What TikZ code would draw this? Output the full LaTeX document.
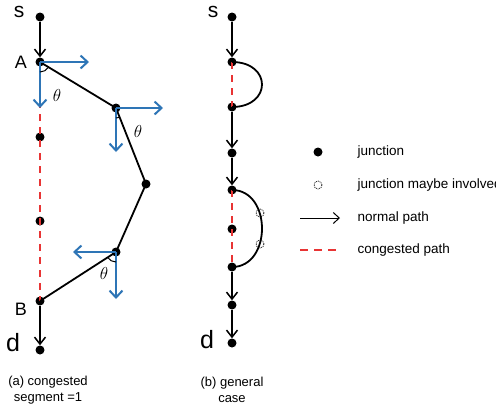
\documentclass[tikz,border=0pt]{standalone}
\usepackage{fontspec}
\setmainfont{Liberation Sans}
\usetikzlibrary{arrows.meta,angles}
\definecolor{myblue}{RGB}{46,117,182}
\definecolor{myred}{RGB}{232,52,52}
\tikzset{
  dot/.style={circle,fill=black,inner sep=0pt,minimum size=9pt},
  odot/.style={circle,draw=black,densely dotted,line width=0.8pt,inner sep=0pt,minimum size=8pt},
  normal/.style={line width=1.8pt,-{Straight Barb[length=7pt,width=11pt,line width=1.5pt]}},
  plain/.style={line width=1.8pt},
  cong/.style={myred,line width=2pt,dash pattern=on 7pt off 6pt},
  bluearr/.style={myblue,line width=2.2pt,-{Straight Barb[length=7pt,width=13pt,line width=2pt]}},
  lbl/.style={font=\fontsize{18}{18}\selectfont},
  captxt/.style={font=\fontsize{13}{16}\selectfont,align=center},
  leg/.style={font=\fontsize{13.5}{15}\selectfont,anchor=west},
  angmark/.style={draw,line width=1pt,angle radius=10pt}
}
\begin{document}
\begin{tikzpicture}[x=1pt,y=1pt]
\useasboundingbox (0,0) rectangle (496,-410);
% ---- (a)
\node[dot] (s) at (40,-17) {};
\node[dot] (A) at (40,-62) {};
\node[dot] (m1) at (40,-137) {};
\node[dot] (m2) at (40,-221) {};
\node[dot] (B) at (40,-301) {};
\node[dot] (d) at (40,-350) {};
\node[dot] (P1) at (116,-108) {};
\node[dot] (P2) at (146,-184) {};
\node[dot] (P3) at (116,-252) {};
\draw[cong] (A.center) -- (B.center);
\draw[normal] (s) -- (A);
\draw[normal] (B) -- (d);
\draw[plain] (A.center) -- (P1.center) -- (P2.center) -- (P3.center) -- (B.center);
% blue vectors
\coordinate (Ar) at (89,-62);
\coordinate (Ad) at (40,-108);
\coordinate (P1r) at (163,-108);
\coordinate (P1d) at (116,-152);
\coordinate (P3l) at (73,-252);
\coordinate (P3d) at (116,-299);
\draw[bluearr] (A.center) -- (Ar);
\draw[bluearr] (A.center) -- (Ad);
\draw[bluearr] (P1.center) -- (P1r);
\draw[bluearr] (P1.center) -- (P1d);
\draw[bluearr] (P3.center) -- (P3l);
\draw[bluearr] (P3.center) -- (P3d);
% angle marks
\coordinate (Ac) at (40,-62);
\coordinate (P1c) at (116,-108);
\coordinate (P2c) at (146,-184);
\coordinate (P3c) at (116,-252);
\coordinate (Bc) at (40,-301);
\pic[angmark] {angle = Ad--Ac--P1c};
\pic[angmark] {angle = P1d--P1c--P2c};
\pic[angmark] {angle = Bc--P3c--P3d};
\node (t1) at (57,-95) {\fontsize{19}{19}\selectfont$\theta$};
\node (t2) at (138,-131) {\fontsize{19}{19}\selectfont$\theta$};
\node (t3) at (104,-273) {\fontsize{19}{19}\selectfont$\theta$};
\node[lbl,font=\fontsize{21}{21}\selectfont] (sl) at (19,-12) {s};
\node[lbl] (Al) at (21,-62) {A};
\node[lbl] (Bl) at (21,-309) {B};
\node[lbl,font=\fontsize{25}{25}\selectfont] (dl) at (13,-343) {d};
\node[captxt] (capa) at (48,-390) {(a) congested\\segment =1};
% ---- (b)
\node[dot] (b0) at (232,-17) {};
\node[dot] (b1) at (232,-62) {};
\node[dot] (b2) at (232,-107) {};
\node[dot] (b3) at (232,-153) {};
\node[dot] (b4) at (232,-190) {};
\node[dot] (b5) at (232,-229) {};
\node[dot] (b6) at (232,-267) {};
\node[dot] (b7) at (232,-305) {};
\node[dot] (b8) at (232,-343) {};
\draw[normal] (b0) -- (b1);
\draw[cong] (b1.center) -- (b2.center);
\draw[plain] (b1.center) .. controls +(40,0) and +(40,0) .. (b2.center);
\draw[normal] (b2) -- (b3);
\draw[normal] (b3) -- (b4);
\draw[cong] (b4.center) -- (b6.center);
\draw[plain] (b4.center) .. controls +(40,0) and +(40,0) .. (b6.center);
\node[odot] (o1) at (260,-213) {};
\node[odot] (o2) at (260,-244) {};
\draw[normal] (b6) -- (b7);
\draw[normal] (b7) -- (b8);
\node[lbl,font=\fontsize{21}{21}\selectfont] (sl2) at (213,-12) {s};
\node[lbl,font=\fontsize{25}{25}\selectfont] (dl2) at (207,-340) {d};
\node[captxt] (capb) at (232,-390) {(b) general\\case};
% ---- legend
\node[dot] (ld) at (318,-152) {};
\node[leg] (lt1) at (354,-152) {junction};
\node[odot] (lo) at (318,-185) {};
\node[leg] (lt2) at (354,-185) {junction maybe involved};
\coordinate (la1) at (300,-218);
\coordinate (la2) at (340,-218);
\draw[line width=1pt,-{Straight Barb[length=6pt,width=11pt,line width=1pt]}] (la1) -- (la2);
\node[leg] (lt3) at (354,-218) {normal path};
\coordinate (lc1) at (300,-250);
\coordinate (lc2) at (340,-250);
\draw[myred,line width=2pt,dash pattern=on 8pt off 6pt] (lc1) -- (lc2);
\node[leg] (lt4) at (354,-250) {congested path};
\end{tikzpicture}
\end{document}
